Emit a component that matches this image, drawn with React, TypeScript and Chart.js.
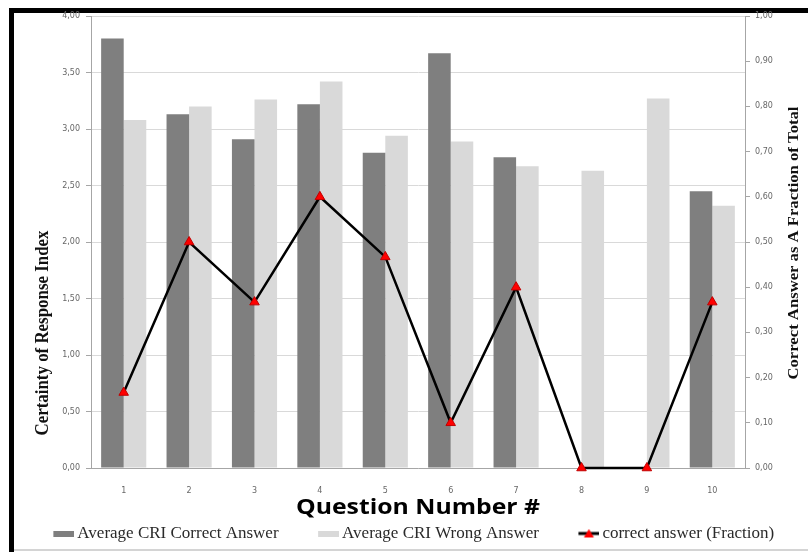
import React, { useEffect, useRef } from "react";
import { Chart, registerables } from "chart.js";

Chart.register(...registerables);

const QUESTIONS = ["1", "2", "3", "4", "5", "6", "7", "8", "9", "10"];
const CRI_CORRECT = [3.8, 3.13, 2.91, 3.22, 2.79, 3.67, 2.75, 0, 0, 2.45];
const CRI_WRONG = [3.08, 3.2, 3.26, 3.42, 2.94, 2.89, 2.67, 2.63, 3.27, 2.32];
const CORRECT_FRACTION = [0.167, 0.5, 0.367, 0.6, 0.467, 0.1, 0.4, 0, 0, 0.367];

const SERIES_NAMES = [
  "Average CRI Correct Answer",
  "Average CRI Wrong Answer",
  "correct answer (Fraction)",
];
const X_TITLE = "Question Number #";
const LEFT_TITLE = "Certainty of Response Index";
const RIGHT_TITLE = "Correct Answer as A Fraction of Total";

const DARK = "#7f7f7f";
const LIGHT = "#d9d9d9";

// legend swatch canvases: transparent lead-in followed by a 21px swatch
const SW_CANVAS = 62;
const SW_START = 41;

function rectSwatch(color: string) {
  const c = document.createElement("canvas");
  c.width = SW_CANVAS;
  c.height = 6;
  const g = c.getContext("2d")!;
  g.fillStyle = color;
  g.fillRect(SW_START, 0, 21, 6);
  return c;
}

function lineSwatch() {
  const c = document.createElement("canvas");
  c.width = SW_CANVAS;
  c.height = 10;
  const g = c.getContext("2d")!;
  g.strokeStyle = "#000";
  g.lineWidth = 3;
  g.beginPath();
  g.moveTo(SW_START, 5);
  g.lineTo(SW_START + 21, 5);
  g.stroke();
  g.fillStyle = "#ff0000";
  g.beginPath();
  g.moveTo(SW_START + 10.5, 0.5);
  g.lineTo(SW_START + 15.5, 9);
  g.lineTo(SW_START + 5.5, 9);
  g.closePath();
  g.fill();
  return c;
}

function drawRotated(ctx: CanvasRenderingContext2D, text: string, x: number, y: number, font: string, length: number) {
  ctx.save();
  ctx.translate(x, y);
  ctx.rotate(-Math.PI / 2);
  ctx.font = font;
  const w = ctx.measureText(text).width;
  ctx.scale(length / w, 1);
  ctx.textAlign = "center";
  ctx.textBaseline = "middle";
  ctx.fillStyle = "#111";
  ctx.fillText(text, 0, 0);
  ctx.restore();
}

const titlesPlugin = {
  id: "axisTitles",
  afterDraw(chart: any) {
    const ctx: CanvasRenderingContext2D = chart.ctx;
    const a = chart.chartArea;
    drawRotated(ctx, LEFT_TITLE, a.left - 48, a.bottom - 135, 'bold 19px "Liberation Serif"', 205);
    drawRotated(ctx, RIGHT_TITLE, a.right + 49, (a.top + a.bottom) / 2 + 1, 'bold 15px "Liberation Serif"', 273);
    ctx.save();
    ctx.font = 'bold 21px "Open Sans"';
    const w = ctx.measureText(X_TITLE).width;
    ctx.translate((a.left + a.right) / 2, a.bottom + 40);
    ctx.scale(244 / w, 1);
    ctx.textAlign = "center";
    ctx.textBaseline = "middle";
    ctx.fillStyle = "#000";
    ctx.fillText(X_TITLE, 0, 0);
    ctx.restore();
  },
};

const fmt = (v: any) => Number(v).toFixed(2).replace(".", ",");

export default function App() {
  const ref = useRef<HTMLCanvasElement>(null);

  useEffect(() => {
    const swatches = [rectSwatch(DARK), rectSwatch(LIGHT), lineSwatch()];
    const chart = new Chart(ref.current!, {
      type: "bar",
      data: {
        labels: QUESTIONS,
        datasets: [
          {
            type: "bar",
            label: SERIES_NAMES[0],
            data: CRI_CORRECT,
            backgroundColor: DARK,
            yAxisID: "y",
            order: 2,
            categoryPercentage: 0.69,
            barPercentage: 1,
          },
          {
            type: "bar",
            label: SERIES_NAMES[1],
            data: CRI_WRONG,
            backgroundColor: LIGHT,
            yAxisID: "y",
            order: 2,
            categoryPercentage: 0.69,
            barPercentage: 1,
          },
          {
            type: "line",
            label: SERIES_NAMES[2],
            data: CORRECT_FRACTION,
            borderColor: "#000",
            borderWidth: 2.5,
            backgroundColor: "#ff0000",
            pointStyle: "triangle",
            pointRadius: 5.5,
            pointBackgroundColor: "#ff0000",
            pointBorderColor: "#c00000",
            pointBorderWidth: 1,
            tension: 0,
            yAxisID: "y1",
            order: 1,
            clip: false,
          } as any,
        ],
      },
      options: {
        responsive: false,
        animation: false,
        layout: { padding: { top: 16, left: 0, right: 16, bottom: 0 } },
        plugins: {
          tooltip: { enabled: false },
          legend: {
            position: "bottom",
            labels: {
              usePointStyle: true,
              pointStyleWidth: 51,
              padding: 4,
              color: "#2a2a2a",
              font: { family: '"Liberation Serif"', size: 17 },
              generateLabels: (ch: any) =>
                ch.data.datasets.map((d: any, i: number) => ({
                  text: d.label,
                  datasetIndex: i,
                  pointStyle: swatches[i],
                  fillStyle: "transparent",
                  strokeStyle: "transparent",
                  lineWidth: 0,
                  hidden: false,
                  fontColor: "#2a2a2a",
                })),
            },
          },
        },
        scales: {
          x: {
            grid: { display: false },
            border: { display: true, color: "#a6a6a6", width: 1 },
            ticks: {
              color: "#666",
              font: { family: '"DejaVu Sans"', size: 8 },
              padding: 10,
              maxRotation: 0,
            },
            afterFit: (s: any) => {
              s.height = s.chart.height - s.chart.legend.height - 468;
            },
          },
          y: {
            position: "left",
            min: 0,
            max: 4,
            ticks: {
              stepSize: 0.5,
              color: "#666",
              font: { family: '"DejaVu Sans"', size: 8 },
              padding: 6,
              callback: (v: any) => fmt(v),
            },
            grid: { color: LIGHT, tickColor: "#a6a6a6", tickLength: 5, lineWidth: 1 },
            border: { color: "#a6a6a6" },
            afterFit: (s: any) => {
              s.width = 91;
            },
          },
          y1: {
            position: "right",
            min: 0,
            max: 1,
            ticks: {
              stepSize: 0.1,
              color: "#666",
              font: { family: '"DejaVu Sans"', size: 8 },
              padding: 5,
              callback: (v: any) => fmt(v),
            },
            grid: { drawOnChartArea: false, tickColor: "#a6a6a6", tickLength: 5 },
            border: { color: "#a6a6a6" },
            afterFit: (s: any) => {
              s.width = 808 - 16 - 745;
            },
          },
        },
      },
      plugins: [titlesPlugin],
    });
    return () => chart.destroy();
  }, []);

  return (
    <div
      style={{
        position: "fixed",
        left: 0,
        top: 0,
        width: 808,
        height: 552,
        background: "#fff",
        overflow: "hidden",
      }}
    >
      <div
        style={{
          position: "absolute",
          left: 9,
          top: 8,
          width: 830,
          height: 570,
          borderLeft: "5px solid #000",
          borderTop: "5px solid #000",
        }}
      />
      <div
        style={{
          position: "absolute",
          left: 14,
          top: 549,
          width: 800,
          height: 2,
          background: "#d4d4d4",
        }}
      />
      <canvas
        ref={ref}
        width={808}
        height={552}
        style={{ position: "absolute", left: 0, top: 0, width: 808, height: 552 }}
      />
    </div>
  );
}
